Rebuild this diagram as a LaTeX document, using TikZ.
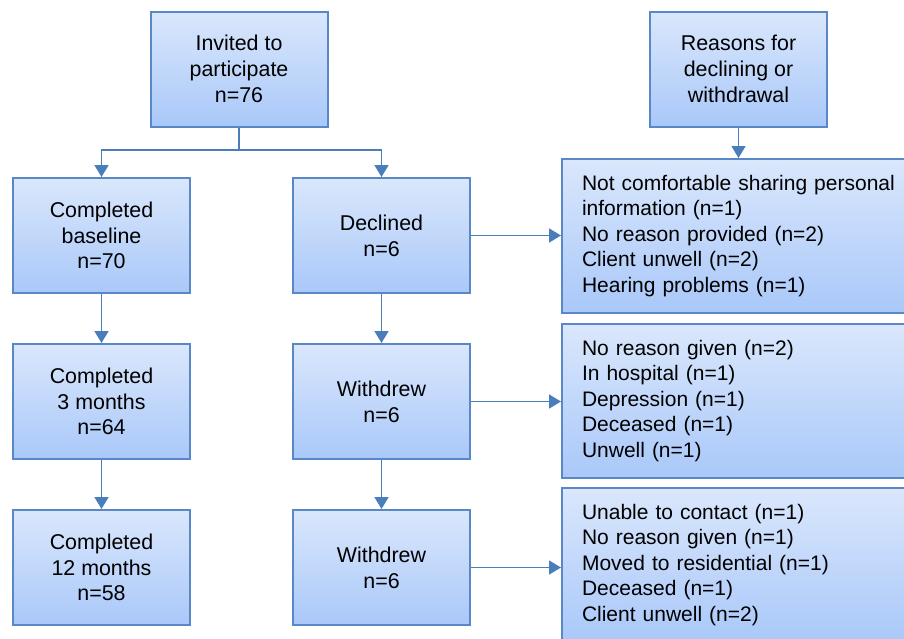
\documentclass[tikz,border=0pt]{standalone}
\usepackage{fontspec}
\setmainfont{Liberation Sans}
\usetikzlibrary{arrows.meta}

\definecolor{boxline}{HTML}{5A87C6}
\definecolor{boxtop}{HTML}{DAE7FC}
\definecolor{boxbottom}{HTML}{A9C8F9}
\definecolor{arrowblue}{HTML}{4A7EBB}

\tikzset{
  stagebox/.style={draw=boxline, line width=1pt, top color=boxtop, bottom color=boxbottom,
    minimum width=88.5pt, minimum height=57.5pt, align=center, inner sep=2pt,
    font=\fontsize{10.7}{12.9}\selectfont},
  reasonbox/.style={draw=boxline, line width=1pt, top color=boxtop, bottom color=boxbottom,
    anchor=west, text width=165pt, minimum height=77pt, align=left, inner xsep=10pt,
    font=\fontsize{10.5}{12.75}\selectfont},
  flow/.style={draw=arrowblue, line width=0.8pt, -{Triangle[width=7pt,length=6pt]}},
  plain/.style={draw=arrowblue, line width=0.8pt}
}

\begin{document}
\begin{tikzpicture}[x=0.5pt, y=-0.5pt]
    \useasboundingbox (0,0) rectangle (904,638);

    % Top row
    \node[stagebox] (invited) at (239,69) {Invited to\\participate\\n=76};
    \node[stagebox] (reasons) at (738.5,69) {Reasons for\\declining or\\withdrawal};

    % Left column: completers
    \node[stagebox] (base) at (101.5,235.5) {Completed\\baseline\\n=70};
    \node[stagebox] (three) at (101.5,401.5) {Completed\\3 months\\n=64};
    \node[stagebox] (twelve) at (101.5,567.5) {Completed\\12 months\\n=58};

    % Middle column: losses
    \node[stagebox] (declined) at (381.5,235.5) {Declined\\n=6};
    \node[stagebox] (withdrewA) at (381.5,401.5) {Withdrew\\n=6};
    \node[stagebox] (withdrewB) at (381.5,567.5) {Withdrew\\n=6};

    % Right column: reasons (boxes run off the right edge)
    \node[reasonbox] (whyDeclined) at (561,236) {Not comfortable sharing personal\\information (n=1)\\No reason provided (n=2)\\Client unwell (n=2)\\Hearing problems (n=1)};
    \node[reasonbox] (whyA) at (561,401) {No reason given (n=2)\\In hospital (n=1)\\Depression (n=1)\\Deceased (n=1)\\Unwell (n=1)};
    \node[reasonbox] (whyB) at (561,565) {Unable to contact (n=1)\\No reason given (n=1)\\Moved to residential (n=1)\\Deceased (n=1)\\Client unwell (n=2)};

    % Split below the invitation
    \coordinate (fork) at (239,150);
    \draw[plain] (invited.south) -- (fork);
    \draw[flow] (fork) -| (base.north);
    \draw[flow] (fork) -| (declined.north);

    % Down the columns
    \draw[flow] (base.south) -- (three.north);
    \draw[flow] (three.south) -- (twelve.north);
    \draw[flow] (declined.south) -- (withdrewA.north);
    \draw[flow] (withdrewA.south) -- (withdrewB.north);

    % Across to the reasons
    \draw[flow] (reasons.south) -- (reasons.south |- whyDeclined.north);
    \draw[flow] (declined.east) -- (declined.east -| whyDeclined.west);
    \draw[flow] (withdrewA.east) -- (withdrewA.east -| whyA.west);
    \draw[flow] (withdrewB.east) -- (withdrewB.east -| whyB.west);

\end{tikzpicture}
\end{document}
